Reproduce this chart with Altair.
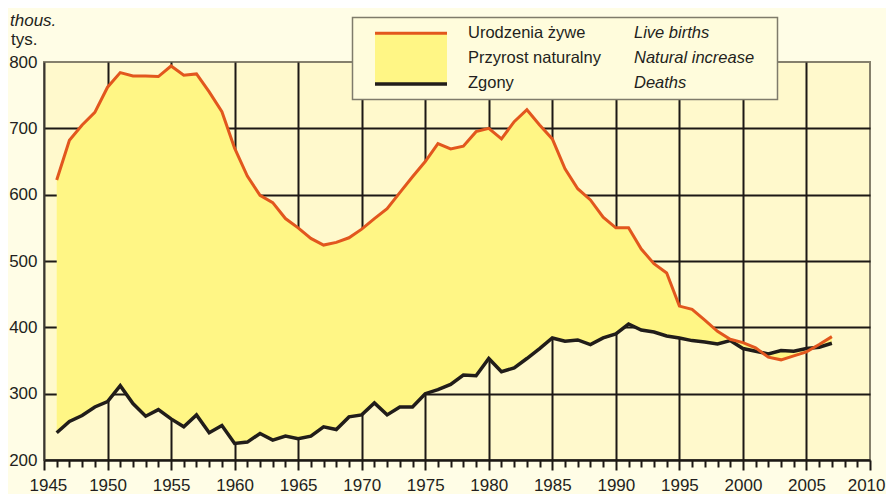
import altair as alt
import pandas as pd

# ---- data (thousands) ----
years = list(range(1946, 2008))
births = [622, 682, 705, 724, 762, 784, 779, 779, 778, 794,
          780, 782, 755, 725, 670, 628, 599, 588, 564, 550,
          534, 524, 528, 535, 548, 564, 579, 603, 627, 650,
          677, 669, 673, 695, 700, 684, 710, 728, 705, 684,
          639, 609, 592, 566, 550, 550, 518, 496, 482, 432,
          427, 411, 394, 382, 377, 369, 355, 351, 357, 363,
          374, 386]
deaths = [241, 258, 267, 280, 288, 312, 285, 266, 276, 262,
          250, 268, 241, 252, 225, 227, 240, 230, 236, 232,
          236, 250, 246, 265, 268, 286, 268, 280, 280, 300,
          306, 314, 328, 327, 353, 333, 339, 353, 368, 384,
          379, 381, 374, 384, 390, 405, 396, 393, 387, 384,
          380, 378, 375, 380, 368, 364, 360, 365, 364, 368,
          370, 376]
x_ticks = list(range(1945, 2011))
y_ticks = [200, 300, 400, 500, 600, 700, 800]
legend_pl = ["Urodzenia żywe", "Przyrost naturalny", "Zgony"]
legend_en = ["Live births", "Natural increase", "Deaths"]
unit_en = "thous."
unit_pl = "tys."

df = pd.DataFrame({"year": years, "births": births, "deaths": deaths})

FONT = "Liberation Sans"
TXT = "#231f20"
ORANGE = "#e2571e"
BLACK = "#211d1a"
YELLOW = "#fff685"
PLOT_BG = "#fff9cc"
OUTER_BG = "#fffde6"
GRID = "#1c1815"

x_enc = alt.X(
    "year:Q",
    scale=alt.Scale(domain=[1945, 2010], nice=False, zero=False),
    axis=alt.Axis(
        values=x_ticks,
        tickCount=len(x_ticks),
        title=None,
        format="d",
        labelExpr="datum.value % 5 === 0 ? datum.label : ''",
        tickSize={"condition": {"test": "datum.value % 5 === 0", "value": 10}, "value": 7},
        tickColor=GRID,
        tickWidth=2,
        grid=True,
        gridColor=GRID,
        gridWidth=2,
        gridOpacity={"condition": {"test": "datum.value % 5 === 0 && datum.value > 1945 && datum.value < 2010",
                                   "value": 1}, "value": 0},
        domainColor=GRID,
        domainWidth=2.5,
        labelFont=FONT,
        labelFontSize=17,
        labelColor=TXT,
        labelPadding=7,
        labelFlush=True,
        labelFlushOffset=15,
        labelOverlap=False,
    ),
)

y_axis = alt.Axis(
    values=y_ticks,
    title=None,
    ticks=False,
    grid=True,
    gridColor=GRID,
    gridWidth=2,
    gridOpacity={"condition": {"test": "datum.value === 200 || datum.value === 800", "value": 0}, "value": 1},
    domainColor="#3a3630",
    domainWidth=2,
    labelFont=FONT,
    labelFontSize=17,
    labelColor=TXT,
    labelPadding=7,
    labelFlush=False,
)
y_scale = alt.Scale(domain=[200, 800], nice=False, zero=False)

base = alt.Chart(df)

area = base.mark_area(color=YELLOW, opacity=1).encode(
    x=x_enc,
    y=alt.Y("deaths:Q", scale=y_scale, axis=y_axis),
    y2="births:Q",
)
line_d = base.mark_line(color=BLACK, strokeWidth=3.5).encode(
    x="year:Q", y=alt.Y("deaths:Q")
)
line_b = base.mark_line(color=ORANGE, strokeWidth=3).encode(
    x="year:Q", y=alt.Y("births:Q")
)

one = pd.DataFrame({"k": [0]})


def text(txt, x, y, italic=False, size=16.5):
    return alt.Chart(pd.DataFrame({"t": [txt]})).mark_text(
        align="left", baseline="alphabetic", font=FONT, fontSize=size, color=TXT,
        fontStyle="italic" if italic else "normal",
    ).encode(x=alt.value(x), y=alt.value(y), text="t:N")


legend_box = alt.Chart(one).mark_rect(
    fill="#fffcdc", stroke="#7f7b6b", strokeWidth=1.5
).encode(x=alt.value(308.5), x2=alt.value(733.5), y=alt.value(-44.5), y2=alt.value(37.5))

sym_fill = alt.Chart(one).mark_rect(fill=YELLOW).encode(
    x=alt.value(331), x2=alt.value(403), y=alt.value(-28.7), y2=alt.value(22)
)
sym_top = alt.Chart(one).mark_rule(color=ORANGE, strokeWidth=3).encode(
    x=alt.value(331), x2=alt.value(403), y=alt.value(-28.7)
)
sym_bot = alt.Chart(one).mark_rule(color=BLACK, strokeWidth=3.5).encode(
    x=alt.value(331), x2=alt.value(403), y=alt.value(22)
)

row_y = [-24, 1.3, 26.3]
legend_texts = []
for i in range(3):
    legend_texts.append(text(legend_pl[i], 424, row_y[i]))
    legend_texts.append(text(legend_en[i], 590, row_y[i], italic=True))

unit_texts = [text(unit_en, -34, -36, italic=True, size=17), text(unit_pl, -33, -17, size=17)]

chart = alt.layer(
    area, line_d, line_b, legend_box, sym_fill, sym_top, sym_bot, *legend_texts, *unit_texts
).properties(
    width=826,
    height=398,
    autosize=alt.AutoSizeParams(type="none"),
    padding={"left": 36, "top": 54, "right": 16, "bottom": 34},
    background=OUTER_BG,
).configure_view(
    fill=PLOT_BG, stroke="#85806c", strokeWidth=2
)

chart.save("out.html", embed_options={"renderer": "svg", "actions": False})
